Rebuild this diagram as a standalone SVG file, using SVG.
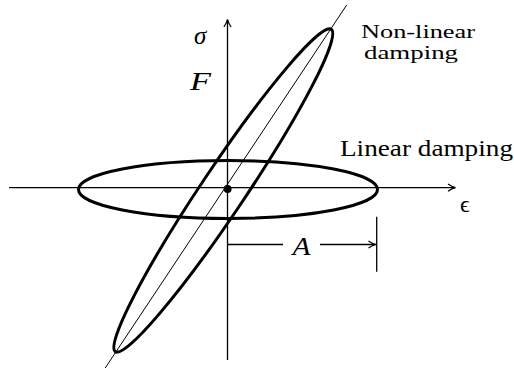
<svg xmlns="http://www.w3.org/2000/svg" width="514" height="368" viewBox="0 0 514 368">
<style>
.thick{fill:none;stroke:#000;stroke-width:3}
.axis{fill:none;stroke:#000;stroke-width:1.3}
.thin{fill:none;stroke:#000;stroke-width:1}
text{fill:#000}
</style>
<defs>
<marker id="arr" markerUnits="userSpaceOnUse" markerWidth="12" markerHeight="10" refX="0" refY="0" viewBox="-9 -5 10 10" orient="auto" overflow="visible">
<path d="M-7,-3.6 Q-3,-0.8 0.5,0 Q-3,0.8 -7,3.6" fill="none" stroke="#000" stroke-width="1.2"/>
</marker>
</defs>
<rect width="514" height="368" fill="#fff"/>
<g id="connectors">
<line id="x-axis" class="axis" x1="9" y1="187.7" x2="455" y2="187.7" marker-end="url(#arr)"/>
<line id="y-axis" class="axis" x1="227.5" y1="360" x2="227.5" y2="20" marker-end="url(#arr)"/>
<line id="diagonal" class="thin" x1="346.7" y1="5" x2="105" y2="368.3"/>
<line id="dim-left" class="axis" x1="228" y1="244.5" x2="283" y2="244.5"/>
<line id="dim-right" class="axis" x1="320" y1="244.5" x2="375.5" y2="244.5" marker-end="url(#arr)"/>
<line id="dim-tick" class="axis" x1="376.7" y1="216.7" x2="376.7" y2="271.7"/>
</g>
<g id="linear-ellipse">
<ellipse class="thick" cx="228" cy="189.5" rx="149.5" ry="29"/>
</g>
<g id="nonlinear-ellipse">
<ellipse class="thick" cx="223.3" cy="190.5" rx="194" ry="22" transform="rotate(-56.2 223.3 190.5)"/>
</g>
<g id="origin">
<circle cx="227.6" cy="189" r="4" fill="#000"/>
</g>
<g id="labels" font-family="'Liberation Serif', 'DejaVu Serif', serif">
<text x="194" y="44" font-size="25" font-style="italic">σ</text>
<text x="190" y="90" font-size="25" font-style="italic" textLength="21" lengthAdjust="spacingAndGlyphs">F</text>
<text x="361" y="37.5" font-size="19.5" textLength="114" lengthAdjust="spacingAndGlyphs">Non-linear</text>
<text x="364" y="58.5" font-size="19.5" textLength="94" lengthAdjust="spacingAndGlyphs">damping</text>
<text x="340" y="156" font-size="24" textLength="173" lengthAdjust="spacingAndGlyphs">Linear damping</text>
<text x="460" y="212" font-size="24">ϵ</text>
<text x="292.5" y="255" font-size="25" font-style="italic" textLength="18" lengthAdjust="spacingAndGlyphs">A</text>
</g>
</svg>
